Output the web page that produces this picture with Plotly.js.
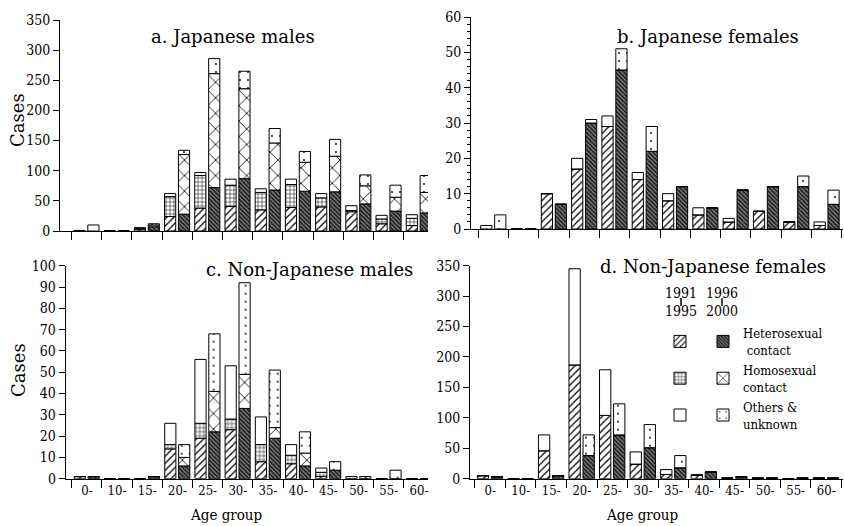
<!DOCTYPE html>
<html><head><meta charset="utf-8">
<script src="https://cdn.plot.ly/plotly-3.0.1.min.js"></script>
<style>html,body{margin:0;padding:0;background:#fff}#chart{width:844px;height:526px}</style>
</head><body><div id="chart"></div>
<script>
// ---------------- data ----------------
const ageGroups = ['0-','10-','15-','20-','25-','30-','35-','40-','45-','50-','55-','60-'];
const periods = ['1991–1995', '1996–2000'];
const routes = ['Heterosexual contact', 'Homosexual contact', 'Others & unknown'];

// a. Japanese males
const jmP1Het  = [0,0,3,24,38,41,35,39,40,32,12,9];
const jmP1Homo = [0,0,2,33,54,35,29,38,15,2,8,12];
const jmP1Oth  = [1,0,0,5,5,10,6,9,7,8,6,6];
const jmP2Het  = [0,0,7,28,72,87,68,66,65,45,33,30];
const jmP2Homo = [0,0,3,99,189,149,78,48,59,30,23,34];
const jmP2Oth  = [10,0,2,7,25,29,24,18,28,18,20,28];

// b. Japanese females
const jfP1Het  = [0,0,10,17,29,14,8,4,2,5,2,1];
const jfP1Homo = [0,0,0,0,0,0,0,0,0,0,0,0];
const jfP1Oth  = [1,0,0,3,3,2,2,2,1,0,0,1];
const jfP2Het  = [0,0,7,30,45,22,12,6,11,12,12,7];
const jfP2Homo = [0,0,0,0,0,0,0,0,0,0,0,0];
const jfP2Oth  = [4,0,0,1,6,7,0,0,0,0,3,4];

// c. Non-Japanese males
const nmP1Het  = [1,0,0,14,19,23,8,7,1,0,0,0];
const nmP1Homo = [0,0,0,2,7,5,8,4,2,0,0,0];
const nmP1Oth  = [0,0,0,10,30,25,13,5,2,1,0,0];
const nmP2Het  = [1,0,1,6,22,33,19,6,4,0,0,0];
const nmP2Homo = [0,0,0,4,19,16,5,6,0,0,0,0];
const nmP2Oth  = [0,0,0,6,27,43,27,10,4,1,4,0];

// d. Non-Japanese females
const nfP1Het  = [5,0,46,187,104,24,7,6,1,1,0,1];
const nfP1Homo = [0,0,0,0,0,0,0,0,0,0,0,0];
const nfP1Oth  = [0,0,26,158,75,20,8,0,0,0,0,0];
const nfP2Het  = [3,0,5,38,72,51,18,11,3,1,1,1];
const nfP2Homo = [0,0,0,0,0,0,0,0,0,0,0,0];
const nfP2Oth  = [0,0,0,34,51,38,20,0,0,0,0,0];

const legendNames = ['Heterosexual<br> contact', 'Homosexual<br>contact', 'Others &amp;<br>unknown'];

// ---------------- styles ----------------
const W = 844, H = 526;
const FONT = 'DejaVu Serif Condensed, DejaVu Serif, serif';
const TFONT = 'DejaVu Serif, serif';
const styles = [
  [ {shape:'/',  bg:'#ffffff', fg:'#000000', size:5, solidity:0.25},
    {shape:'+',  bg:'#ffffff', fg:'#333333', size:4, solidity:0.3},
    {shape:'',   bg:'#ffffff', fg:'#000000', size:8, solidity:0.2} ],
  [ {shape:'\\', bg:'#7a7a7a', fg:'#1a1a1a', size:3, solidity:0.5},
    {shape:'x',  bg:'#ffffff', fg:'#000000', size:11, solidity:0.14},
    {shape:'.',  bg:'#ffffff', fg:'#000000', size:8, solidity:0.04} ]
];
const offsets = [-0.42, 0.04];
const barWidth = 0.37;

const panels = [
  {xa:'x',  ya:'y',  series:[[jmP1Het,jmP1Homo,jmP1Oth],[jmP2Het,jmP2Homo,jmP2Oth]], legend:true},
  {xa:'x2', ya:'y2', series:[[jfP1Het,jfP1Homo,jfP1Oth],[jfP2Het,jfP2Homo,jfP2Oth]], legend:false},
  {xa:'x3', ya:'y3', series:[[nmP1Het,nmP1Homo,nmP1Oth],[nmP2Het,nmP2Homo,nmP2Oth]], legend:false},
  {xa:'x4', ya:'y4', series:[[nfP1Het,nfP1Homo,nfP1Oth],[nfP2Het,nfP2Homo,nfP2Oth]], legend:false}
];

const traces = [];
panels.forEach(p => {
  p.series.forEach((stack, pi) => {
    const base = ageGroups.map(() => 0);
    stack.forEach((vals, ri) => {
      const st = styles[pi][ri];
      traces.push({
        type:'bar', x: ageGroups, y: vals, base: base.slice(),
        offset: offsets[pi], width: barWidth,
        xaxis: p.xa, yaxis: p.ya,
        name: pi === 0 ? ' <br> ' : legendNames[ri],
        legend: pi === 0 ? 'legend' : 'legend2',
        showlegend: p.legend,
        hovertemplate: periods[pi] + ' ' + routes[ri] + ' %{x}: %{y}<extra></extra>',
        marker: {
          color: st.bg,
          line: {color:'#000', width:1},
          pattern: {shape: st.shape, fgcolor: st.fg, bgcolor: st.bg, size: st.size, solidity: st.solidity}
        }
      });
      vals.forEach((v, i) => { base[i] += v; });
    });
  });
});

const xd = (a, b) => [a / W, b / W];
const yd = (top, bot) => [1 - bot / H, 1 - top / H];

function xAxis(dom, range, anchor, labels) {
  return {domain: dom, range: range, anchor: anchor, type:'category', categoryarray: ageGroups,
    tickson:'boundaries', ticks:'outside', ticklen:8, tickcolor:'#000', tickwidth:1,
    showticklabels: labels, tickfont:{family:FONT, size:13, color:'#000'},
    showline:true, linecolor:'#000', linewidth:1, showgrid:false, zeroline:false, fixedrange:true};
}
function yAxis(dom, range, dtick, anchor, minor) {
  const ax = {domain: dom, range: range, dtick: dtick, anchor: anchor,
    ticks:'outside', ticklen:6, tickcolor:'#000', tickwidth:1,
    tickfont:{family:FONT, size:14, color:'#000'},
    showline:true, linecolor:'#000', linewidth:1, showgrid:false, zeroline:false, fixedrange:true};
  if (minor) ax.minor = {dtick: minor, ticks:'outside', ticklen:3, tickcolor:'#000', showgrid:false};
  return ax;
}

const ann = (text, xpx, ypx, size, extra, fam) => Object.assign({
  text: text, xref:'paper', yref:'paper', x: xpx / W, y: 1 - ypx / H,
  xanchor:'center', yanchor:'middle', showarrow:false,
  font:{family:fam || FONT, size:size, color:'#000'}}, extra || {});

const legendBase = {xanchor:'left', yanchor:'top', bgcolor:'rgba(0,0,0,0)',
  font:{family:FONT, size:13, color:'#000'}, tracegroupgap:0, itemclick:false, itemdoubleclick:false};

const layout = {
  width: W, height: H,
  margin:{l:0, r:0, t:0, b:0},
  paper_bgcolor:'#fff', plot_bgcolor:'rgba(0,0,0,0)',
  barmode:'overlay',
  font:{family:FONT, color:'#000'},
  xaxis:  xAxis(xd(60, 428),  [-0.88, 11.3], 'y',  false),
  yaxis:  yAxis(yd(20, 231),  [0, 350], 50, 'x'),
  xaxis2: xAxis(xd(471, 843.4), [-0.74, 11.55], 'y2', false),
  yaxis2: yAxis(yd(17, 229),  [0, 60], 10, 'x2', 2),
  xaxis3: xAxis(xd(65.7, 428), [-0.7, 11.3], 'y3', true),
  yaxis3: yAxis(yd(265.7, 478.7), [0, 100], 10, 'x3'),
  xaxis4: xAxis(xd(470, 843), [-0.66, 11.55], 'y4', true),
  yaxis4: yAxis(yd(265.7, 478.7), [0, 350], 50, 'x4'),
  legend:  Object.assign({x: 660 / W, y: 1 - 318 / H}, legendBase),
  legend2: Object.assign({x: 703 / W, y: 1 - 318 / H}, legendBase),
  annotations: [
    ann('a. Japanese males', 233, 37, 18, null, TFONT),
    ann('b. Japanese females', 708, 37, 18, null, TFONT),
    ann('c. Non-Japanese males', 309, 269, 18, null, TFONT),
    ann('d. Non-Japanese females', 713, 266, 18, null, TFONT),
    ann('Cases', 18, 120, 18, {textangle:-90}, TFONT),
    ann('Cases', 18, 370, 18, {textangle:-90}, TFONT),
    ann('Age group', 226, 515, 15),
    ann('Age group', 642, 515, 15),
    ann('1991<br>1995', 681, 302, 14),
    ann('1996<br>2000', 722, 302, 14)
  ],
  shapes: [
    {type:'line', xref:'paper', yref:'paper', x0:681/W, x1:681/W, y0:1-298/H, y1:1-306/H, line:{color:'#000', width:1.5}},
    {type:'line', xref:'paper', yref:'paper', x0:722/W, x1:722/W, y0:1-298/H, y1:1-306/H, line:{color:'#000', width:1.5}}
  ]
};

Plotly.newPlot('chart', traces, layout, {displayModeBar:false, staticPlot:true});
</script>
</body></html>
